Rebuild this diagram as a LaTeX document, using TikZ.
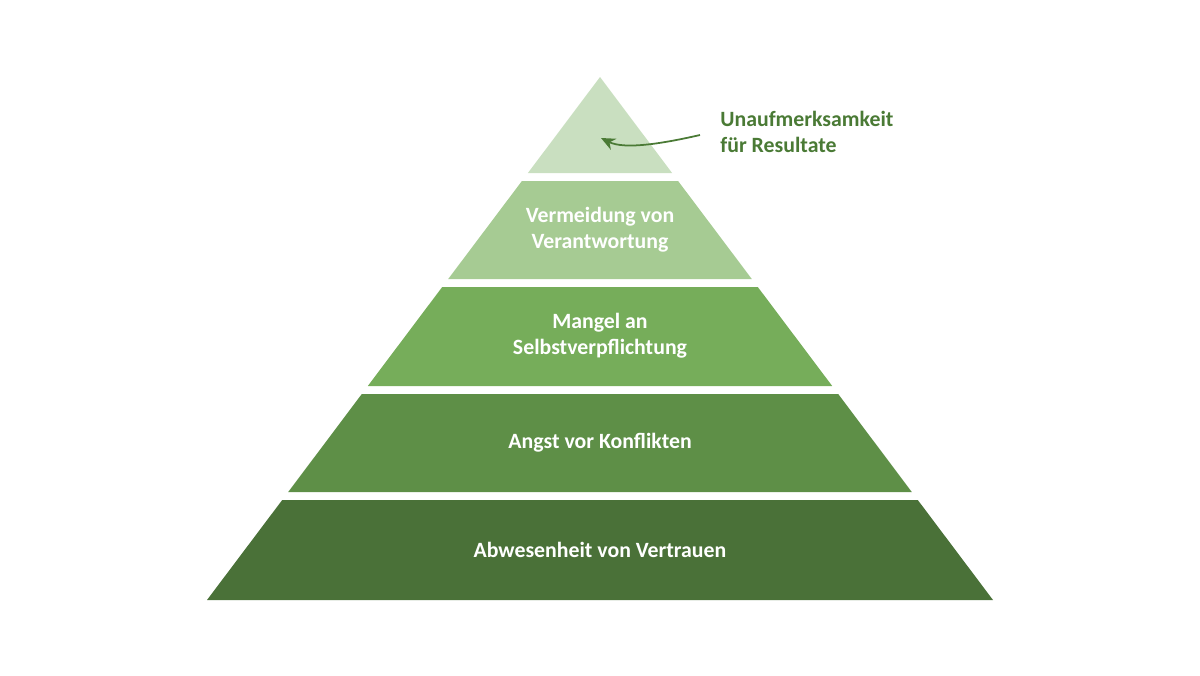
\documentclass[tikz,border=0pt]{standalone}
\usepackage{fontspec}
\setmainfont{Carlito}
\usetikzlibrary{arrows.meta}
\definecolor{c1}{HTML}{C9DFC0}
\definecolor{c2}{HTML}{A6CB93}
\definecolor{c3}{HTML}{76AD5A}
\definecolor{c4}{HTML}{5E8F47}
\definecolor{c5}{HTML}{4A7138}
\definecolor{lab}{HTML}{4A7A35}
\begin{document}
\begin{tikzpicture}[x=0.01cm,y=-0.01cm,
  lay/.style={text=white,font=\fontsize{6.2pt}{7.4pt}\selectfont\bfseries,align=center},
  side/.style={text=lab,font=\fontsize{6.2pt}{7.6pt}\selectfont\bfseries,align=left,anchor=west}]
\useasboundingbox (0,0) rectangle (1200,675);
\fill[c1] (600,77) -- (672.1,173) -- (527.9,173) -- cycle;
\fill[c2] (521.9,181) -- (678.1,181) -- (751.8,279) -- (448.2,279) -- cycle;
\fill[c3] (442.2,287) -- (757.8,287) -- (832.2,386) -- (367.8,386) -- cycle;
\fill[c4] (361.8,394) -- (838.2,394) -- (911.8,492) -- (288.2,492) -- cycle;
\fill[c5] (282.2,500) -- (917.8,500) -- (993,600) -- (207,600) -- cycle;
\node[lay] (l2) at (600,230) {Vermeidung von\\Verantwortung};
\node[lay] (l3) at (600,336) {Mangel an\\Selbstverpflichtung};
\node[lay] (l4) at (600,443) {Angst vor Konflikten};
\node[lay] (l5) at (600,550) {Abwesenheit von Vertrauen};
\node[side] (t) at (708,132) {Unaufmerksamkeit\\für Resultate};
\coordinate (a1) at (700,135);
\coordinate (a2) at (601,138);
\draw[lab,line width=0.5pt,-{Stealth[length=4pt,width=3.5pt]}] (a1) .. controls (665,143) and (625,150) .. (a2);
\end{tikzpicture}
\end{document}
